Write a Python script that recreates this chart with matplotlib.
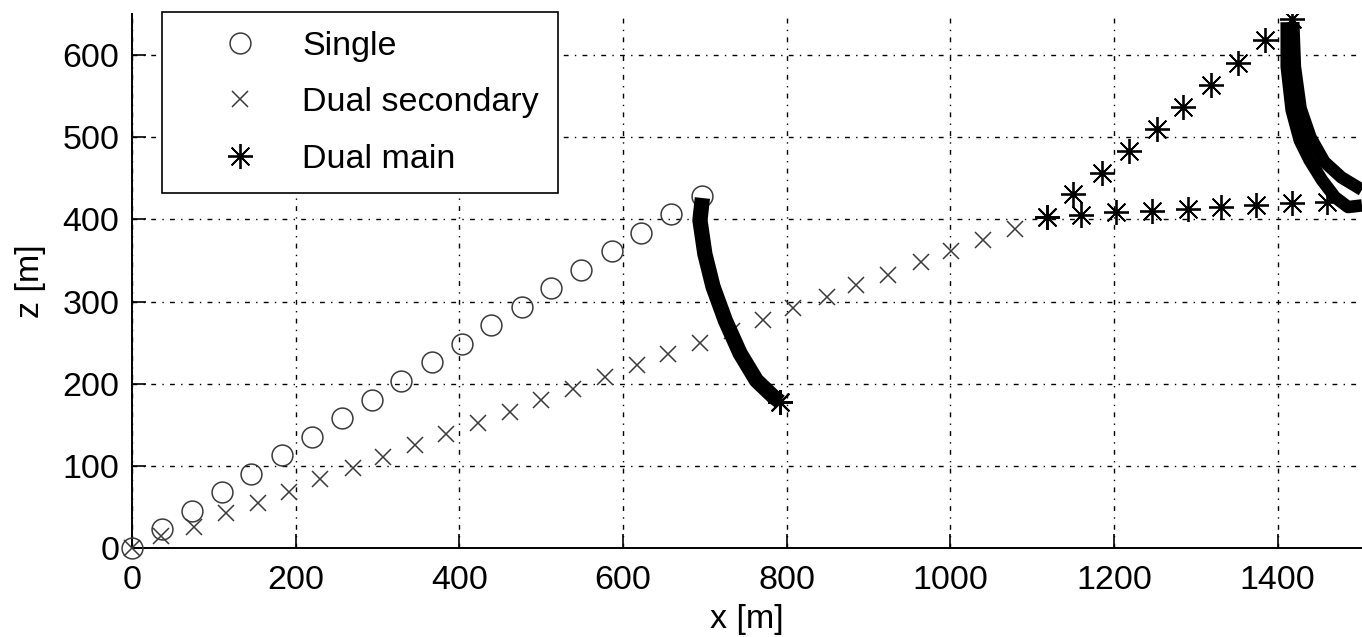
import numpy as np
import matplotlib
matplotlib.use('Agg')
import matplotlib.pyplot as plt

plt.rcParams['font.family'] = ['Liberation Sans', 'DejaVu Sans']
fs = 24.5

# single vehicle trajectory (circles)
single_x = [0, 37, 73, 110, 146, 183, 220, 256, 293, 329, 366, 403, 439, 476, 512, 549, 586, 622, 659, 696]
single_z = [0, 23, 45, 68, 90, 113, 135, 158, 180, 203, 226, 248, 271, 293, 316, 338, 361, 383, 406, 429]
# dense part after single release
single_tail_x = [697, 694, 700, 710, 725, 743, 763, 784, 792]
single_tail_z = [426, 399, 358, 318, 277, 237, 204, 184, 178]

# dual secondary (x)
sec_x = [0, 36, 76, 115, 154, 192, 230, 270, 307, 346, 384, 423, 462, 500, 539, 578, 617, 655, 694,
         733, 771, 808, 849, 885, 924, 964, 1001, 1040, 1079]
sec_z = [0, 14, 26, 42, 55, 68, 84, 97, 111, 125, 139, 152, 166, 180, 194, 208, 223, 236, 249,
         264, 277, 292, 306, 320, 332, 348, 362, 375, 388]

# dual main (asterisk) - climbing branch and level branch
main_x = [1118, 1150, 1185, 1218, 1252, 1284, 1318, 1351, 1385, 1417]
main_z = [403, 431, 457, 483, 510, 537, 563, 590, 618, 644]
level_x = [1118, 1160, 1203, 1247, 1290, 1331, 1374, 1417, 1460]
level_z = [403, 405, 409, 410, 413, 415, 418, 420, 421]
# dense parts after dual main release
tail_a_x = [1411, 1411, 1417, 1427, 1439, 1454, 1470, 1486, 1503]
tail_a_z = [640, 586, 533, 496, 472, 448, 427, 415, 417]
tail_b_x = [1419, 1421, 1428, 1440, 1457, 1478, 1503]
tail_b_z = [640, 586, 535, 500, 470, 451, 436]

xticks = [0, 200, 400, 600, 800, 1000, 1200, 1400]
yticks = [0, 100, 200, 300, 400, 500, 600]

ast = (8, 2, 0)
gray = '#3a3a3a'

fig = plt.figure(figsize=(13.62, 6.37), dpi=100)
ax = fig.add_axes([132 / 1362, 89 / 637, 1230 / 1362, 534 / 637])

ax.plot(single_x, single_z, 'o', ms=15, mfc='none', mec=gray, mew=1.1, label='Single', zorder=3, clip_on=False)
ax.plot(sec_x, sec_z, 'x', ms=11.5, mec=gray, mew=1.1, label='Dual secondary', zorder=3, clip_on=False)
ax.plot(main_x, main_z, marker=ast, ls='none', ms=18, mec='k', mew=1.3, label='Dual main', zorder=3)
ax.plot(level_x, level_z, marker=ast, ls='none', ms=18, mec='k', mew=1.3, zorder=3)

ax.plot(single_tail_x, single_tail_z, '-', color='k', lw=11, solid_capstyle='butt', zorder=4)
ax.plot(single_tail_x[-1:], single_tail_z[-1:], marker=ast, ms=18, mec='k', mew=1.5, zorder=4)
ax.plot(tail_a_x, tail_a_z, '-', color='k', lw=9, solid_capstyle='butt', zorder=4)
ax.plot(tail_b_x, tail_b_z, '-', color='k', lw=9, solid_capstyle='butt', zorder=4)

ax.set_xlim(0, 1503)
ax.set_ylim(0, 650)
ax.set_xticks(xticks)
ax.set_yticks(yticks)
ax.tick_params(direction='in', length=10, width=1.2, labelsize=fs, pad=9)
ax.tick_params(axis='x', pad=12)
for s in ['top', 'right']:
    ax.spines[s].set_visible(False)
for s in ['left', 'bottom']:
    ax.spines[s].set_linewidth(1.4)

ax.grid(True, color='k', lw=1.0, ls=(0, (3.5, 4.5, 1, 4.5)))
ax.set_axisbelow(True)

ax.set_xlabel('x [m]', fontsize=fs, labelpad=6)
ax.set_ylabel('z [m]', fontsize=fs, labelpad=12)

leg = ax.legend(loc='upper left', bbox_to_anchor=(0.0244, 1.004), borderaxespad=0,
                fontsize=fs, numpoints=1, handlelength=3.49, handletextpad=0.08,
                borderpad=0.55, labelspacing=0.75, fancybox=False, framealpha=1,
                edgecolor='k')
leg.get_frame().set_linewidth(1.2)

fig.savefig('out.png', dpi=100)
